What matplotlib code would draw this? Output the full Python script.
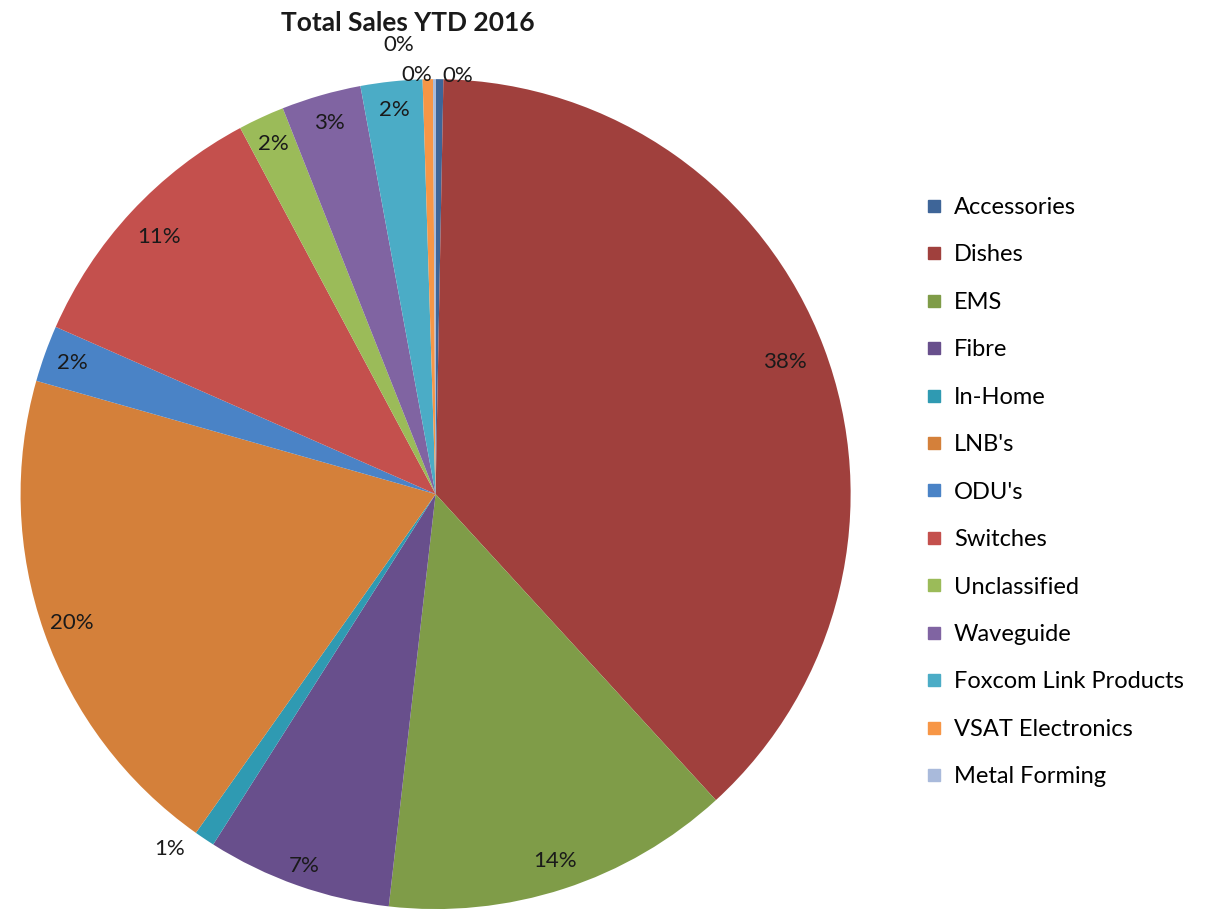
import numpy as np
import matplotlib
matplotlib.use("Agg")
import matplotlib.pyplot as plt
from matplotlib.lines import Line2D

plt.rcParams['font.family'] = ['Lato', 'DejaVu Sans']

categories = ["Accessories", "Dishes", "EMS", "Fibre", "In-Home", "LNB's",
              "ODU's", "Switches", "Unclassified", "Waveguide",
              "Foxcom Link Products", "VSAT Electronics", "Metal Forming"]
share_pct = [0.3, 37.9, 13.6, 7.2, 0.8, 19.6, 2.2, 10.6, 1.8, 3.1, 2.4, 0.4, 0.1]
colors = ["#3E6598", "#A0403D", "#7F9C48", "#684F8C", "#2F9AB2", "#D4803A",
          "#4A83C6", "#C4504D", "#9BBB59", "#8064A2", "#4BACC6", "#F79646",
          "#A9BADB"]

# label distance (fraction of radius) and small angular nudge (deg) per slice
label_dist = [1.01, 0.90, 0.93, 0.95, 1.07, 0.93, 0.93, 0.91, 0.93, 0.93, 0.93, 1.01, 1.085]
label_nudge = [2.5, 0, 0, 0, 3, 0, 0, 0, 0, 0, 0, -1.5, -4.5]

fig = plt.figure(figsize=(12.1, 9.15), dpi=100)
ax = fig.add_axes([0.017, 0.0065, 0.686, 0.907])

wedges, _ = ax.pie(share_pct, colors=colors, startangle=90, counterclock=False,
                   radius=1.0, wedgeprops=dict(linewidth=0))
ax.set_xlim(-1, 1)
ax.set_ylim(-1, 1)
ax.set_aspect('auto')
ax.axis('off')

total = sum(share_pct)
for w, v, d, n in zip(wedges, share_pct, label_dist, label_nudge):
    mid = np.deg2rad((w.theta1 + w.theta2) / 2.0 - n)
    pct = 100.0 * v / total
    ax.text(d * np.cos(mid), d * np.sin(mid), f"{pct:.0f}%",
            ha='center', va='center', fontsize=16, color='#1a1a1a')

fig.text(0.337, 0.975, "Total Sales YTD 2016", ha='center', va='center',
         fontsize=19, fontweight='bold', color='#1a1a1a')

handles = [Line2D([0], [0], marker='s', linestyle='none', markersize=8,
                  markerfacecolor=c, markeredgecolor=c) for c in colors]
fig.legend(handles, categories, loc='upper left', bbox_to_anchor=(0.757, 0.795),
           frameon=False, fontsize=17, labelspacing=1.12, handlelength=0.7,
           handletextpad=0.5, borderaxespad=0)

fig.savefig("out.png", dpi=100)
